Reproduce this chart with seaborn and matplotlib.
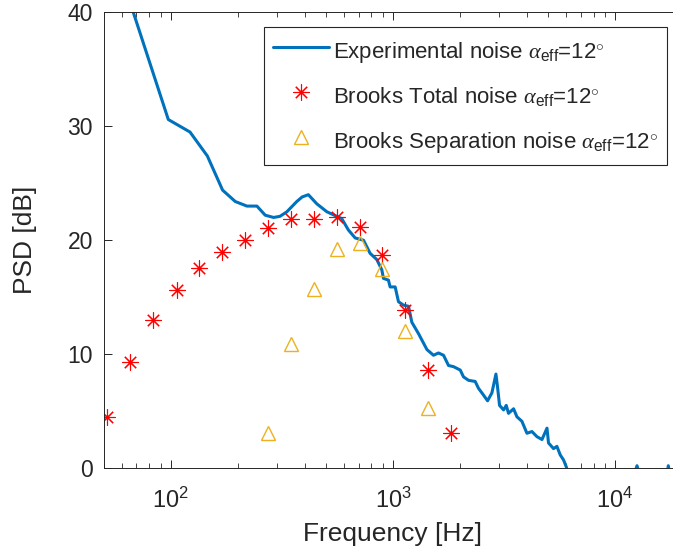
import numpy as np
import pandas as pd
import matplotlib
matplotlib.use('Agg')
import matplotlib.pyplot as plt
import seaborn as sns

#%%
# Experimental noise spectrum
exp_freq = [55, 67.8, 97.4, 122, 146, 171, 195, 220, 244, 266,
            290, 310, 333, 369, 390, 416, 454, 504, 588, 630,
            676, 737, 789, 846, 891, 906, 954, 971, 1023, 1059,
            1115, 1175, 1216, 1303, 1422, 1522, 1603, 1689, 1779, 1873,
            2009, 2078, 2189, 2345, 2427, 2557, 2666, 2789, 2908, 2957,
            3019, 3147, 3236, 3313, 3491, 3614, 3807, 4010, 4224, 4449,
            4687, 4937, 5015, 5283, 5470, 5663, 5863, 6030, 6400, 8000,
            10000, 12000, 12550, 13100, 15000, 17000, 17360, 17800, 20000]
exp_psd = [46.0, 40.0, 30.6, 29.5, 27.4, 24.4, 23.4, 23.0, 23.0, 22.2,
           22.0, 22.1, 22.5, 23.4, 23.8, 24.0, 23.2, 22.5, 21.9, 20.9,
           20.2, 20.0, 18.85, 18.3, 17.4, 16.65, 16.5, 15.9, 15.9, 14.6,
           14.3, 14.2, 12.8, 11.8, 10.4, 9.9, 10.1, 9.9, 9.0, 8.9,
           8.6, 8.0, 7.7, 7.6, 7.0, 6.4, 5.9, 6.6, 8.25, 7.1,
           5.5, 5.1, 5.5, 4.8, 5.2, 4.5, 4.1, 3.05, 3.2, 2.75,
           2.5, 3.5, 2.2, 1.7, 1.9, 1.15, 0.7, 0.1, -1.5, -3.0,
           -2.5, -1.0, 0.2, -1.0, -2.5, -1.0, 0.2, -1.0, -2.5]

# Brooks model predictions
brooks_freq = [51.6, 65.5, 83.2, 106.6, 134, 170, 216, 274, 348, 442,
               561, 712, 895, 1138, 1445, 1834]
brooks_total = [4.5, 9.3, 13.0, 15.6, 17.6, 19.0, 20.0, 21.1, 21.9, 21.9,
                22.0, 21.2, 18.7, 13.9, 8.6, 3.1]
sep_freq = [274, 348, 442, 561, 712, 895, 1138, 1445]
sep_psd = [3.05, 10.9, 15.7, 19.2, 19.75, 17.5, 12.0, 5.25]

lbl_exp = r'Experimental noise $\mathit{\alpha}_{\mathrm{eff}}$=12$^{\circ}$'
lbl_tot = r'Brooks Total noise $\mathit{\alpha}_{\mathrm{eff}}$=12$^{\circ}$'
lbl_sep = r'Brooks Separation noise $\mathit{\alpha}_{\mathrm{eff}}$=12$^{\circ}$'

#%%
sns.set_style('ticks')
plt.rcParams['font.family'] = ['Liberation Sans', 'DejaVu Sans']
plt.rcParams['mathtext.fontset'] = 'custom'
plt.rcParams['mathtext.rm'] = 'Liberation Sans'
plt.rcParams['mathtext.it'] = 'Liberation Serif:italic'
plt.rcParams['mathtext.bf'] = 'Liberation Sans:bold'
txt_color = '#262626'

fig = plt.figure(figsize=(6.73, 5.5), dpi=100)
ax = fig.add_axes([0.1545, 0.1491, 0.8588, 0.8282])

sns.lineplot(x=exp_freq, y=exp_psd, ax=ax, color='#0072BD', linewidth=2.2,
             sort=False, label=lbl_exp)
sns.lineplot(x=brooks_freq, y=brooks_total, ax=ax, color='#FF0000', linestyle='none',
             marker=(8, 2, 0), markersize=11.5, markeredgecolor='#FF0000',
             markeredgewidth=0.8, label=lbl_tot)
sns.lineplot(x=sep_freq, y=sep_psd, ax=ax, color='#EDB120', linestyle='none',
             marker='^', markersize=10, markerfacecolor='none', markeredgecolor='#EDB120',
             markeredgewidth=1.0, label=lbl_sep)

ax.set_xscale('log')
ax.set_xlim(50, 2e4)
ax.set_ylim(0, 40)
ax.set_yticks([0, 10, 20, 30, 40])

ax.tick_params(which='both', direction='in', top=True, right=True, colors=txt_color)
ax.tick_params(which='major', length=6, width=0.7)
ax.tick_params(which='minor', length=3.5, width=0.6)
ax.tick_params(axis='y', labelsize=16.5, pad=8)
ax.tick_params(axis='x', labelsize=17, pad=14)
for spine in ax.spines.values():
    spine.set_edgecolor(txt_color)
    spine.set_linewidth(0.7)

ax.set_xlabel('Frequency [Hz]', fontsize=19, color=txt_color, labelpad=7)
ax.set_ylabel('PSD [dB]', fontsize=19, color=txt_color, labelpad=22)

leg = ax.legend(loc='upper right', bbox_to_anchor=(667 / 673, 1 - 27 / 550),
                bbox_transform=fig.transFigure, borderaxespad=0, fontsize=16,
                frameon=True, fancybox=False, framealpha=1, handlelength=2.5,
                handleheight=1.7, labelspacing=0.67, handletextpad=0.2, borderpad=0.4)
leg.get_frame().set_edgecolor(txt_color)
leg.get_frame().set_linewidth(0.8)

fig.savefig('out.png', dpi=100)
